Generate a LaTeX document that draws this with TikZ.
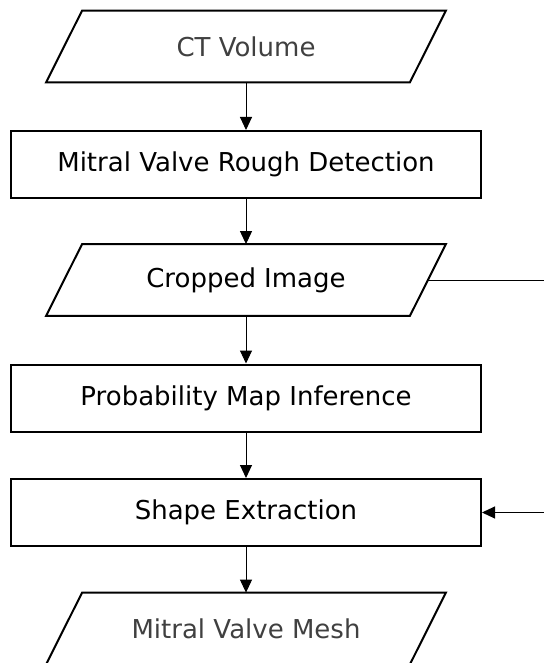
\documentclass[tikz,border=0pt]{standalone}
\usepackage{fontspec}
\setmainfont{DejaVu Sans}
\usetikzlibrary{arrows.meta}

\begin{document}
\begin{tikzpicture}[x=0.5pt,y=-0.5pt,
      font=\fontsize{13}{15}\selectfont,
      procbox/.style={draw,line width=1pt,minimum width=235pt,minimum height=33.5pt,inner sep=0pt},
      databox/.style={minimum width=181.5pt,minimum height=35.5pt,inner sep=0pt},
      flow/.style={line width=0.5pt,-{Triangle[length=6.5pt,width=6pt]}}]
      \useasboundingbox (0,0) rectangle (544,663);
      \node[databox,text=black!75] (ctvol) at (246,46.5) {CT Volume};
      \node[procbox] (rough) at (246,164.5) {Mitral Valve Rough Detection};
      \node[databox] (crop) at (246,280) {Cropped Image};
      \node[procbox] (prob) at (246,398) {Probability Map Inference};
      \node[procbox] (shape) at (246,512.5) {Shape Extraction};
      \node[databox,text=black!75] (mesh) at (246,628.5) {Mitral Valve Mesh};
      \foreach \n in {ctvol,crop,mesh}
            \draw[line width=1pt] ([xshift=9pt]\n.north west) -- ([xshift=9pt]\n.north east)
                  -- ([xshift=-9pt]\n.south east) -- ([xshift=-9pt]\n.south west) -- cycle;
      \coordinate (fbout) at (544,280);
      \coordinate (fbin) at (544,512.5);
      \draw[flow] (ctvol) -- (rough);
      \draw[flow] (rough) -- (crop);
      \draw[flow] (crop) -- (prob);
      \draw[flow] (prob) -- (shape);
      \draw[flow] (shape) -- (mesh);
      \draw[line width=0.5pt] (crop.east) -- (fbout);
      \draw[flow] (fbin) -- (shape.east);
\end{tikzpicture}
\end{document}
